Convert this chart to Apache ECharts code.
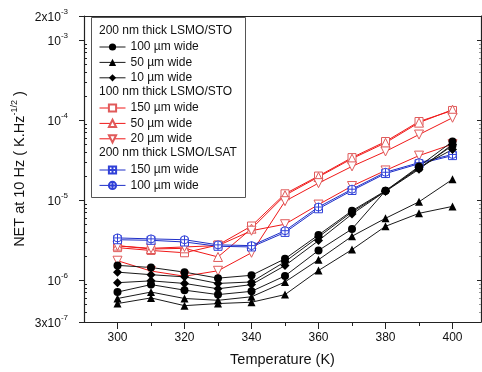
<!DOCTYPE html>
<html>
<head>
<meta charset="utf-8">
<script src="https://cdn.jsdelivr.net/npm/echarts@6/dist/echarts.min.js"></script>
<style>
  html, body { margin: 0; padding: 0; background: #fff; }
  #chart { width: 482px; height: 372px; }
</style>
</head>
<body>
<div id="chart"></div>
<script>
// temperatures (K)
const temps = [300, 310, 320, 330, 340, 350, 360, 370, 380, 390, 400];

// 200 nm thick LSMO/STO
const sto200w100a = [1.53e-6, 1.44e-6, 1.26e-6, 1.06e-6, 1.15e-6, 1.85e-6, 3.67e-6, 7.37e-6, 1.31e-5, 2.64e-5, 5.41e-5];
const sto200w100b = [7.1e-7, 8.8e-7, 7.5e-7, 6.6e-7, 7.25e-7, 1.13e-6, 2.35e-6, 4.36e-6, 1.31e-5, 2.5e-5, 4.8e-5];
const sto200w50a = [5.9e-7, 7.1e-7, 5.9e-7, 5.6e-7, 6.2e-7, 9.5e-7, 1.8e-6, 3.54e-6, 5.93e-6, 9.53e-6, 1.82e-5];
const sto200w50b = [5.1e-7, 6.0e-7, 4.8e-7, 5.1e-7, 5.3e-7, 6.6e-7, 1.32e-6, 2.41e-6, 4.71e-6, 6.84e-6, 8.35e-6];
const sto200w10a = [1.26e-6, 1.17e-6, 1.1e-6, 9.1e-7, 9.5e-7, 1.7e-6, 3.47e-6, 7.1e-6, 1.29e-5, 2.57e-5, 4.3e-5];
const sto200w10b = [9.3e-7, 9.8e-7, 9.1e-7, 7.8e-7, 8.8e-7, 1.52e-6, 3.12e-6, 6.7e-6, 1.29e-5, 2.43e-5, 4.97e-5];

// 100 nm thick LSMO/STO
const sto100w150 = [2.55e-6, 2.35e-6, 2.2e-6, 2.75e-6, 4.75e-6, 1.2e-5, 2.0e-5, 3.4e-5, 5.4e-5, 9.6e-5, 1.32e-4];
const sto100w50 = [2.7e-6, 2.45e-6, 2.5e-6, 1.95e-6, 4.4e-6, 1.15e-5, 1.95e-5, 3.3e-5, 5.2e-5, 9.3e-5, 1.35e-4];
const sto100w20a = [1.75e-6, 1.3e-6, 1.12e-6, 1.31e-6, 2.2e-6, 9.7e-6, 1.63e-5, 2.64e-5, 4.06e-5, 6.6e-5, 1.07e-4];
const sto100w20b = [2.68e-6, 2.5e-6, 2.6e-6, 2.7e-6, 4.15e-6, 5.0e-6, 8.8e-6, 1.5e-5, 2.35e-5, 3.6e-5, 5.0e-5];

// 200 nm thick LSMO/LSAT
const lsat200w150 = [3.2e-6, 3.15e-6, 3.0e-6, 2.65e-6, 2.6e-6, 3.95e-6, 7.8e-6, 1.32e-5, 2.15e-5, 2.85e-5, 3.6e-5];
const lsat200w100 = [3.37e-6, 3.28e-6, 3.2e-6, 2.76e-6, 2.7e-6, 4.15e-6, 8.2e-6, 1.37e-5, 2.23e-5, 2.94e-5, 3.72e-5];

// axis ticks
const xMajor = [300, 320, 340, 360, 380, 400];
const xMinor = [310, 330, 350, 370, 390];
const yMin = 3e-7;
const yMax = 2e-3;
const yMajor = [3e-7, 1e-6, 1e-5, 1e-4, 1e-3, 2e-3];

const FONT = "Liberation Sans";
const lg = (v) => Math.log10(v);

// log-spaced minor ticks
const yMinor = [];
for (let e = -7; e <= -3; e++) {
  for (let k = 2; k <= 9; k++) {
    const v = k * Math.pow(10, e);
    if (v > yMin * 1.0001 && v < yMax * 0.9999) yMinor.push(lg(v));
  }
}

const SQ_PLUS = "path://M0,0H10V10H0Z M5,0V10 M0,5H10";
const CIRC_PLUS = "path://M10,5A5,5,0,1,1,0,5A5,5,0,1,1,10,5Z M5,0V10 M0,5H10";
const SQ = "path://M0,0H10V10H0Z";
const TRI_UP = "path://M5,0L10,9L0,9Z";
const TRI_DN = "path://M0,0L10,0L5,9Z";

function mk(name, data, symbol, size, lineColor, markColor, hollow) {
  return {
    name: name,
    type: "line",
    data: temps.map((t, i) => [t, lg(data[i])]),
    symbol: symbol,
    symbolSize: size,
    lineStyle: { color: lineColor, width: 1 },
    itemStyle: hollow
      ? { color: "#fff", borderColor: markColor, borderWidth: 1 }
      : { color: markColor },
    emphasis: { disabled: true },
  };
}

const RED = "#f01818";
const RED_M = "#e05a5a";
const BLUE = "#1f2fc8";
const BLUE_M = "#3040d8";
const BLK = "#1a1a1a";

const series = [
  mk("150 µm wide|r", sto100w150, SQ, 8, RED, RED_M, true),
  mk("50 µm wide|r", sto100w50, TRI_UP, 9, RED, RED_M, true),
  mk("20 µm wide|r", sto100w20a, TRI_DN, 9, RED, RED_M, true),
  mk("20 µm wide|r", sto100w20b, TRI_DN, 9, RED, RED_M, true),
  mk("150 µm wide|b", lsat200w150, SQ_PLUS, 8, BLUE, BLUE_M, true),
  mk("100 µm wide|b", lsat200w100, CIRC_PLUS, 8, BLUE, BLUE_M, true),
  mk("100 µm wide|k", sto200w100a, "circle", 8, BLK, "#000", false),
  mk("100 µm wide|k", sto200w100b, "circle", 8, BLK, "#000", false),
  mk("50 µm wide|k", sto200w50a, "triangle", 8, BLK, "#000", false),
  mk("50 µm wide|k", sto200w50b, "triangle", 8, BLK, "#000", false),
  mk("10 µm wide|k", sto200w10a, "diamond", 9, BLK, "#000", false),
  mk("10 µm wide|k", sto200w10b, "diamond", 9, BLK, "#000", false),
];

function yLabel(v) {
  const e = Math.floor(v + 1e-9);
  const m = Math.round(Math.pow(10, v - e));
  return (m === 1 ? "{b|10}" : "{b|" + m + "x10}") + "{s|" + e + "}";
}

const supRich = {
  b: { fontSize: 12, fontFamily: FONT, color: "#111", lineHeight: 16, verticalAlign: "bottom" },
  s: { fontSize: 8, fontFamily: FONT, color: "#111", lineHeight: 16, verticalAlign: "top" },
};

function legendAt(top, names) {
  return {
    orient: "vertical",
    left: 99,
    top: top,
    padding: 0,
    itemGap: 1.4,
    itemWidth: 26,
    itemHeight: 9,
    selectedMode: false,
    data: names,
    formatter: (n) => n.split("|")[0],
    lineStyle: { width: 1 },
    textStyle: { fontFamily: FONT, fontSize: 12, color: "#111", lineHeight: 14 },
  };
}

const headers = [
  ["200 nm thick LSMO/STO", 32],
  ["100 nm thick LSMO/STO", 93],
  ["200 nm thick LSMO/LSAT", 154],
];

const ySide = (pos, extra) => Object.assign({
  type: "value",
  position: pos,
  min: lg(yMin),
  max: lg(yMax),
  splitLine: { show: false },
}, extra);

const option = {
  animation: false,
  backgroundColor: "#fff",
  grid: { left: 84, right: 1, top: 16, bottom: 49 },
  legend: [
    legendAt(40, ["100 µm wide|k", "50 µm wide|k", "10 µm wide|k"]),
    legendAt(101, ["150 µm wide|r", "50 µm wide|r", "20 µm wide|r"]),
    legendAt(163, ["150 µm wide|b", "100 µm wide|b"]),
  ],
  graphic: [
    {
      type: "rect",
      shape: { x: 91.5, y: 17.5, width: 154, height: 180 },
      style: { fill: "#fff", stroke: "#555", lineWidth: 1 },
      z: -1,
    },
  ].concat(headers.map((h) => ({
    type: "text",
    left: 99,
    top: h[1] - 7,
    style: { text: h[0], font: "12px " + FONT, fill: "#111" },
  }))),
  xAxis: [
    {
      type: "value",
      min: 290,
      max: 408.5,
      name: "Temperature (K)",
      nameLocation: "middle",
      nameGap: 30,
      nameTextStyle: { fontFamily: FONT, fontSize: 14.5, color: "#111" },
      axisLine: { lineStyle: { color: "#222", width: 1.2 } },
      axisTick: { customValues: xMajor, length: 7, lineStyle: { color: "#222" } },
      axisLabel: { customValues: xMajor, margin: 10, fontFamily: FONT, fontSize: 12, color: "#111" },
      splitLine: { show: false },
    },
    {
      type: "value",
      min: 290,
      max: 408.5,
      position: "bottom",
      axisLine: { show: false },
      axisTick: { customValues: xMinor, length: 4, lineStyle: { color: "#222" } },
      axisLabel: { show: false },
      splitLine: { show: false },
    },
    {
      type: "value",
      min: 290,
      max: 408.5,
      position: "top",
      axisLine: { lineStyle: { color: "#222", width: 1.2 } },
      axisTick: { show: false },
      axisLabel: { show: false },
      splitLine: { show: false },
    },
  ],
  yAxis: [
    ySide("left", {
      name: "NET at 10 Hz ( K.Hz{s|-1/2} )",
      nameLocation: "middle",
      nameRotate: 90,
      nameGap: 54,
      nameMoveOverlap: false,
      nameTextStyle: {
        fontFamily: FONT, fontSize: 14.5, color: "#111",
        rich: { s: { fontSize: 9, fontFamily: FONT, color: "#111", verticalAlign: "top", lineHeight: 20 } },
      },
      axisLine: { show: true, lineStyle: { color: "#222", width: 1.2 } },
      axisTick: { customValues: yMajor.map(lg), length: 5, lineStyle: { color: "#222" } },
      axisLabel: {
        customValues: yMajor.map(lg),
        margin: 16,
        formatter: yLabel,
        rich: supRich,
      },
    }),
    ySide("left", {
      axisLine: { show: false },
      axisTick: { customValues: yMinor, length: 3, inside: true, lineStyle: { color: "#222" } },
      axisLabel: { show: false },
    }),
    ySide("right", {
      axisLine: { show: true, lineStyle: { color: "#222", width: 1.2 } },
      axisTick: { customValues: [-6, -5, -4, -3], length: 4, inside: true, lineStyle: { color: "#222" } },
      axisLabel: { show: false },
    }),
    ySide("right", {
      axisLine: { show: false },
      axisTick: { customValues: yMinor, length: 2, inside: true, lineStyle: { color: "#999" } },
      axisLabel: { show: false },
    }),
  ],
  series: series,
};

const myChart = echarts.init(document.getElementById("chart"));
myChart.setOption(option);
window.addEventListener("resize", function () {
  myChart.resize();
});
</script>
</body>
</html>
